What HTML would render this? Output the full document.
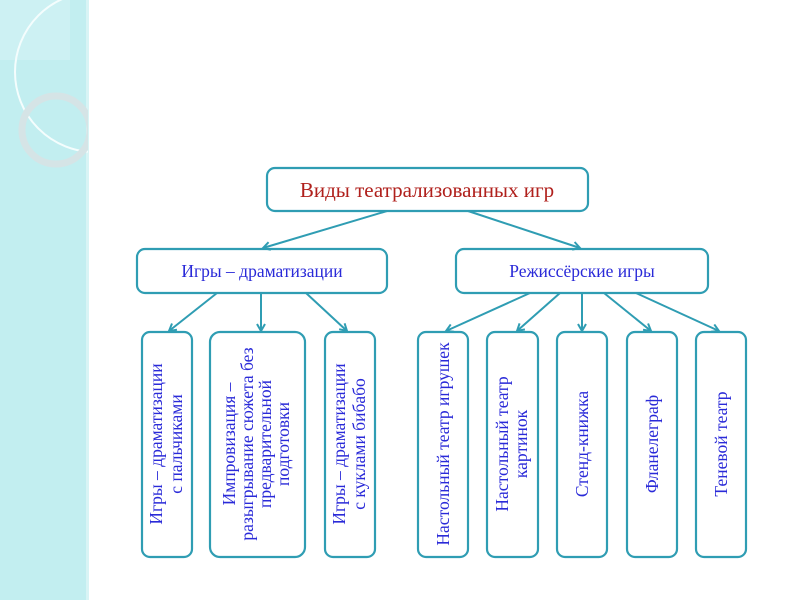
<!DOCTYPE html>
<html><head><meta charset="utf-8"><style>
html,body{margin:0;padding:0;background:#fff;}
svg{display:block}
text{font-family:"Liberation Serif",serif;}
</style></head><body>
<svg width="800" height="600" viewBox="0 0 800 600">
<defs>
<clipPath id="band"><rect x="0" y="0" width="88" height="600"/></clipPath>
<marker id="ar" markerWidth="10" markerHeight="10" refX="8" refY="5" orient="auto" markerUnits="userSpaceOnUse">
<path d="M1,1 L8,5 L1,9" fill="none" stroke="#2f9db3" stroke-width="2"/>
</marker>
</defs>
<rect x="0" y="0" width="88" height="600" fill="#c2eef0"/>
<rect x="86" y="0" width="3" height="600" fill="#d8f4f5"/>
<g clip-path="url(#band)">
<rect x="0" y="0" width="70" height="60" fill="#d2f2f3" opacity="0.7"/>
<circle cx="95" cy="72" r="80" fill="none" stroke="#f4fdfd" stroke-width="2"/>
<circle cx="56" cy="130" r="34" fill="none" stroke="#d5e4e6" stroke-width="7"/>
</g>
<g fill="#fff" stroke="#2f9db3" stroke-width="2.2">
<rect x="267" y="168" width="321" height="43" rx="8"/>
<rect x="137" y="249" width="250" height="44" rx="8"/>
<rect x="456" y="249" width="252" height="44" rx="8"/>
<rect x="142" y="332" width="50" height="225" rx="8"/>
<rect x="210" y="332" width="95" height="225" rx="10"/>
<rect x="325" y="332" width="50" height="225" rx="8"/>
<rect x="418" y="332" width="50" height="225" rx="8"/>
<rect x="487" y="332" width="51" height="225" rx="8"/>
<rect x="557" y="332" width="50" height="225" rx="8"/>
<rect x="627" y="332" width="50" height="225" rx="8"/>
<rect x="696" y="332" width="50" height="225" rx="8"/>
</g>
<g stroke="#2f9db3" stroke-width="2" marker-end="url(#ar)">
<line x1="387" y1="211" x2="263" y2="248"/>
<line x1="468" y1="211" x2="580" y2="248"/>
<line x1="217" y1="293" x2="169" y2="331"/>
<line x1="261" y1="293" x2="261" y2="331"/>
<line x1="306" y1="293" x2="347" y2="331"/>
<line x1="530" y1="293" x2="446" y2="331"/>
<line x1="560" y1="293" x2="517" y2="331"/>
<line x1="582" y1="293" x2="582" y2="331"/>
<line x1="604" y1="293" x2="651" y2="331"/>
<line x1="636" y1="293" x2="719" y2="331"/>
</g>
<text x="427" y="197" font-size="21" fill="#b0201c" text-anchor="middle">Виды театрализованных игр</text>
<g fill="#2a2ad8" font-size="17.5" text-anchor="middle">
<text x="262" y="277">Игры – драматизации</text>
<text x="582" y="277">Режиссёрские игры</text>
<g font-size="17.5">
<text transform="translate(167,444) rotate(-90)"><tspan x="0" y="-5">Игры – драматизации</tspan><tspan x="0" y="15">с пальчиками</tspan></text>
<text transform="translate(257,444) rotate(-90)"><tspan x="0" y="-22">Импровизация –</tspan><tspan x="0" y="-4">разыгрывание сюжета без</tspan><tspan x="0" y="14">предварительной</tspan><tspan x="0" y="32">подготовки</tspan></text>
<text transform="translate(350,444) rotate(-90)"><tspan x="0" y="-5">Игры – драматизации</tspan><tspan x="0" y="15">с куклами бибабо</tspan></text>
<text transform="translate(443,444) rotate(-90)"><tspan x="0" y="6">Настольный театр игрушек</tspan></text>
<text transform="translate(512,444) rotate(-90)"><tspan x="0" y="-4">Настольный театр</tspan><tspan x="0" y="15">картинок</tspan></text>
<text transform="translate(582,444) rotate(-90)"><tspan x="0" y="6">Стенд-книжка</tspan></text>
<text transform="translate(652,444) rotate(-90)"><tspan x="0" y="6">Фланелеграф</tspan></text>
<text transform="translate(721,444) rotate(-90)"><tspan x="0" y="6">Теневой театр</tspan></text>
</g>
</g>
</svg>
</body></html>
